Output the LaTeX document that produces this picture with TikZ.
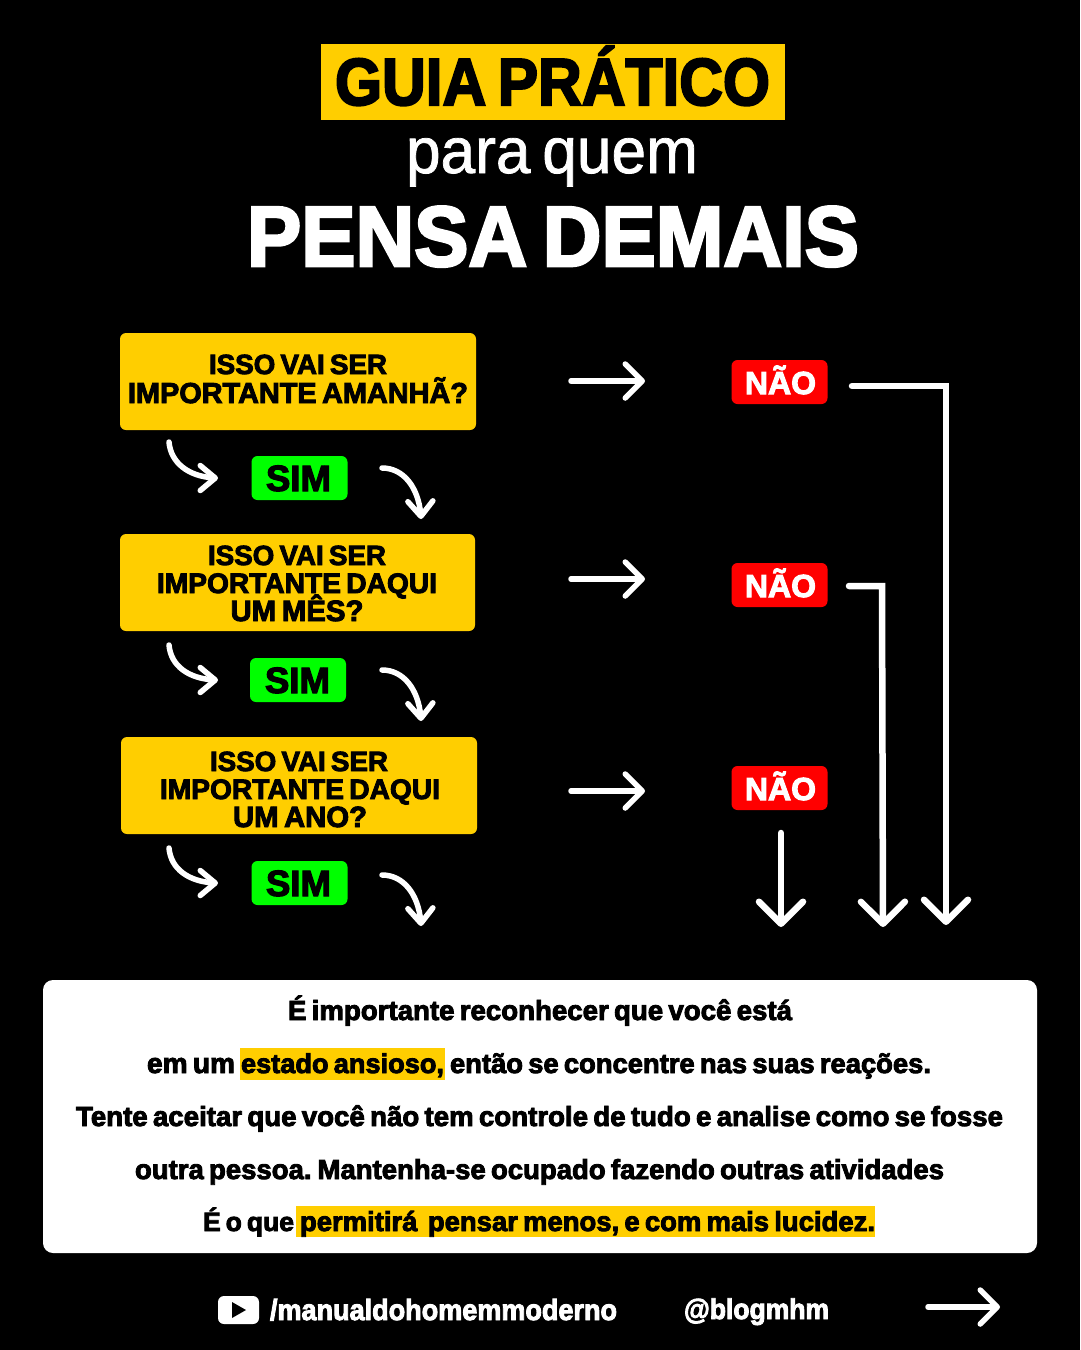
\documentclass[tikz,border=0pt]{standalone}
\usepackage{fontspec}
\usepackage{graphicx}
\usetikzlibrary{arrows.meta,bending,calc}
\setmainfont[BoldFeatures={FakeBold=3.2}]{Liberation Sans}
\newfontfamily\medfont[FakeBold=1.2]{Liberation Sans}
\definecolor{gold}{HTML}{FFCE00}
\definecolor{limeg}{HTML}{00FF00}
\definecolor{redn}{HTML}{FF0000}
\newcommand{\fitw}[2]{\resizebox{#1pt}{!}{#2}}
\newcommand{\fitv}[3]{\scalebox{1}[#2]{\resizebox{#1pt}{!}{#3}}}
\newcommand{\tf}[1]{\fontsize{#1}{#1}\selectfont\spaceskip=.19em\relax\xspaceskip=.22em\relax}
\tikzset{
 x=1pt,y=-1pt,
 txt/.style={inner sep=0pt,outer sep=0pt,text=#1,font=\bfseries},
 txt/.default=black,
 qbox/.style={fill=gold,rounded corners=6pt,inner sep=0pt,minimum width=#1pt,minimum height=97pt},
 tagbox/.style={rounded corners=6pt,inner sep=0pt,minimum width=96pt,minimum height=44pt},
 sim/.style={tagbox,fill=limeg},
 nao/.style={tagbox,fill=redn},
 wire/.style={draw=white,line width=#1,line cap=round,line join=round},
 wire/.default=5.5pt,
 tipS/.style={-{Straight Barb[flex=0,length=15pt,width=25pt,line cap=round,line join=round]}},
 tipM/.style={-{Straight Barb[flex=0,length=17pt,width=34pt,line cap=round,line join=round]}},
 tipL/.style={-{Straight Barb[flex=0,length=22pt,width=44pt,line cap=round,line join=round]}},
}
\begin{document}
\begin{tikzpicture}
\useasboundingbox (0,0) rectangle (1080,1350);
\fill[black] (0,0) rectangle (1080,1350);
% title
\fill[gold] (321,44) rectangle (785,120);
\node[txt,anchor=base west] (t1) at (335,105) {\fitv{435}{1.1}{\tf{68}GUIA PRÁTICO}};
\node[txt=white,anchor=base west,font=\medfont] (t2) at (406,173) {\fitv{292}{1.04}{\tf{60}para quem}};
\node[txt=white,anchor=base west] (t3) at (247,266) {\fitv{612}{1.05}{\tf{88}PENSA DEMAIS}};
% question boxes
\node[qbox=356] (q1) at (298,381.5) {};
\node[qbox=355] (q2) at (297.5,582.5) {};
\node[qbox=356] (q3) at (299,785.5) {};
\node[txt,anchor=base] (q1a) at (298,374) {\fitw{178}{\tf{30}ISSO VAI SER}};
\node[txt,anchor=base] (q1b) at (298,403) {\fitw{340}{\tf{30}IMPORTANTE AMANHÃ?}};
\node[txt,anchor=base] (q2a) at (297,565) {\fitw{178}{\tf{30}ISSO VAI SER}};
\node[txt,anchor=base] (q2b) at (297,593) {\fitw{280}{\tf{30}IMPORTANTE DAQUI}};
\node[txt,anchor=base] (q2c) at (297,621) {\fitw{133}{\tf{30}UM MÊS?}};
\node[txt,anchor=base] (q3a) at (299,771) {\fitw{178}{\tf{30}ISSO VAI SER}};
\node[txt,anchor=base] (q3b) at (300,799) {\fitw{280}{\tf{30}IMPORTANTE DAQUI}};
\node[txt,anchor=base] (q3c) at (300,827) {\fitw{134}{\tf{30}UM ANO?}};
% tags
\node[sim] (s1) at (299.5,478) {};
\node[sim] (s2) at (298,680) {};
\node[sim] (s3) at (299.5,883) {};
\node[txt,anchor=base] (s1t) at (298.5,491) {\fitw{65}{\tf{33}SIM}};
\node[txt,anchor=base] (s2t) at (297.5,693) {\fitw{65}{\tf{33}SIM}};
\node[txt,anchor=base] (s3t) at (298.5,896) {\fitw{65}{\tf{33}SIM}};
\node[nao] (n1) at (779.5,382) {};
\node[nao] (n2) at (779.5,585) {};
\node[nao] (n3) at (779.5,788) {};
\node[txt=white,anchor=base] (n1t) at (780.5,394) {\fitw{71}{\tf{33}NÃO}};
\node[txt=white,anchor=base] (n2t) at (780.5,597) {\fitw{71}{\tf{33}NÃO}};
\node[txt=white,anchor=base] (n3t) at (780.5,800) {\fitw{71}{\tf{33}NÃO}};
% curved arrows
\draw[wire,tipS] (169,442) .. controls (171,465) and (192,478) .. (218,478);
\draw[wire,tipS] (382,468) .. controls (405,468) and (420,490) .. (421,519);
\draw[wire,tipS] (169,645) .. controls (171,668) and (192,680) .. (218,680);
\draw[wire,tipS] (382,670) .. controls (405,670) and (420,692) .. (421,721);
\draw[wire,tipS] (169,848) .. controls (171,871) and (192,883) .. (218,883);
\draw[wire,tipS] (382,875) .. controls (405,875) and (420,897) .. (421,926);
% right arrows
\coordinate (ra1s) at (571,381); \coordinate (ra1e) at (645,381);
\coordinate (ra2s) at (571,579); \coordinate (ra2e) at (645,579);
\coordinate (ra3s) at (571,791); \coordinate (ra3e) at (645,791);
\draw[wire,tipM] (ra1s) -- (ra1e);
\draw[wire,tipM] (ra2s) -- (ra2e);
\draw[wire,tipM] (ra3s) -- (ra3e);
% elbows
\coordinate (e1a) at (852,386); \coordinate (e1b) at (946,386); \coordinate (e1c) at (946,925);
\coordinate (e2a) at (849,586); \coordinate (e2b) at (882,586); \coordinate (e2c) at (883,927);
\coordinate (e3a) at (781,833); \coordinate (e3b) at (781,927);
\draw[wire=6.5pt,tipL,line join=miter] (e1a) -- (e1b) -- (e1c);
\draw[wire=6.5pt,tipL,line join=miter] (e2a) -- (e2b) -- (e2c);
\draw[wire=6.5pt,tipL] (e3a) -- (e3b);
% text panel
\fill[white,rounded corners=10pt] (43,980) rectangle (1037,1253);
\fill[gold] (240,1048) rectangle (445,1080);
\fill[gold] (296,1206) rectangle (875,1237);
\node[txt,anchor=base west] (p1) at (288,1020) {\fitw{504}{\tf{28}É importante reconhecer que você está}};
\node[txt,anchor=base west] (p2a) at (147,1073) {\fitw{88}{\tf{28}em um}};
\node[txt,anchor=base west] (p2b) at (241,1073) {\fitw{203}{\tf{28}estado ansioso,}};
\node[txt,anchor=base west] (p2c) at (450,1073) {\fitw{481}{\tf{28}então se concentre nas suas reações.}};
\node[txt,anchor=base west] (p3) at (76,1126) {\fitw{927}{\tf{28}Tente aceitar que você não tem controle de tudo e analise como se fosse}};
\node[txt,anchor=base west] (p4) at (135,1179) {\fitw{809}{\tf{28}outra pessoa. Mantenha-se ocupado fazendo outras atividades}};
\node[txt,anchor=base west] (p5a) at (203,1231) {\fitw{91}{\tf{28}É o que}};
\node[txt,anchor=base west] (p5b) at (300,1231) {\fitw{575}{\tf{28}permitirá\ \ pensar menos, e com mais lucidez.}};
% footer
\node[fill=white,rounded corners=6pt,minimum width=41pt,minimum height=28pt,inner sep=0pt] (yt) at (238.5,1310) {};
\fill[black] (232,1302) -- (246,1310) -- (232,1318) -- cycle;
\node[txt=white,anchor=base west] (f1) at (270,1320) {\fitv{347}{1.08}{\tf{29}/manualdohomemmoderno}};
\node[txt=white,anchor=base west] (f2) at (684,1319) {\fitv{145}{1.08}{\tf{29}@blogmhm}};
\coordinate (fa1) at (928,1307); \coordinate (fa2) at (1000,1307);
\draw[wire,tipM] (fa1) -- (fa2);
\end{tikzpicture}
\end{document}
